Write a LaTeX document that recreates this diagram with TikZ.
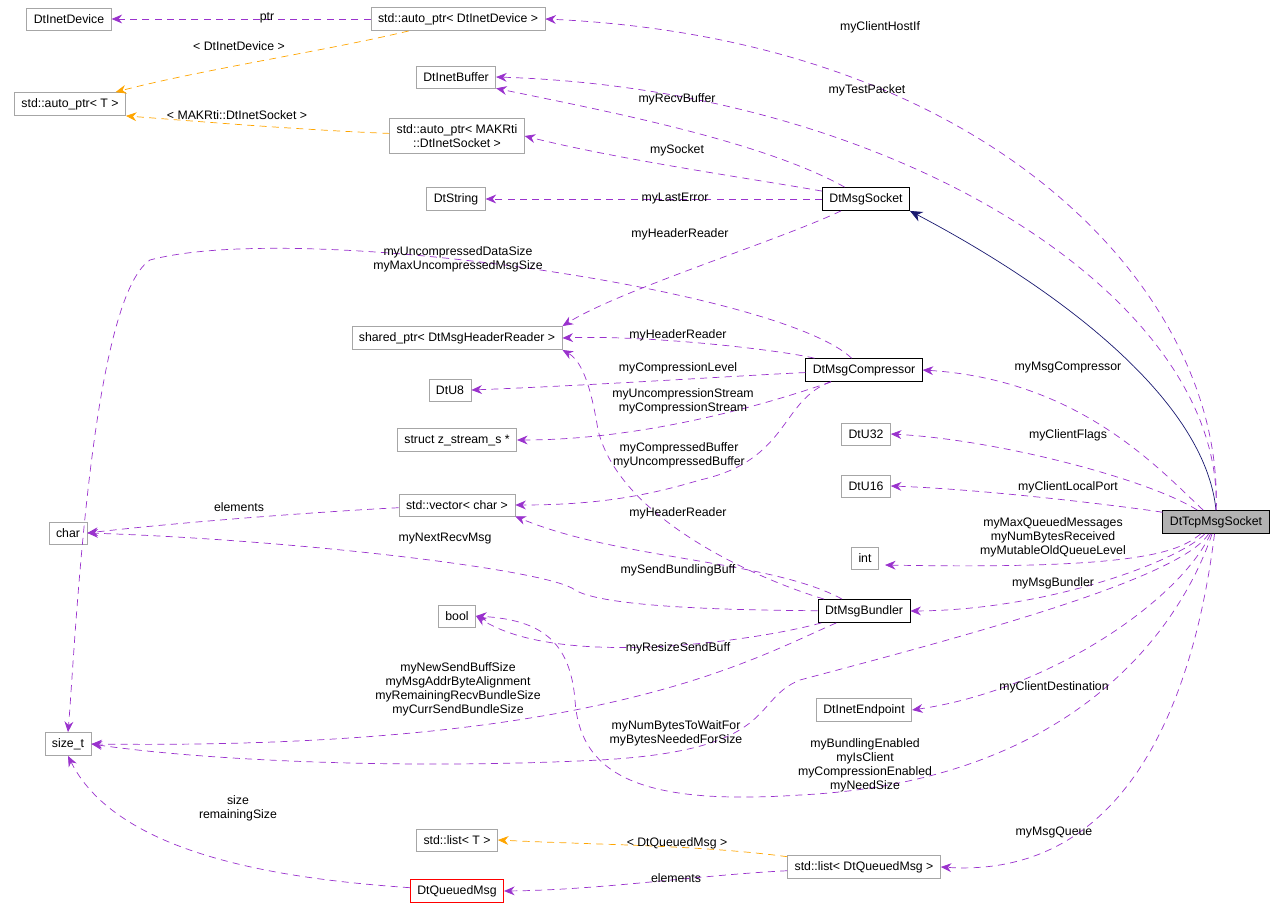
\documentclass[tikz,border=0pt]{standalone}
\usepackage{fontspec}
\setmainfont{Liberation Sans}
\usetikzlibrary{arrows.meta}
\definecolor{mem}{HTML}{9A32CD}
\definecolor{tpl}{HTML}{FFA500}
\definecolor{inh}{HTML}{191970}
\begin{document}
\begin{tikzpicture}[x=0.02cm,y=-0.02cm,font=\fontsize{7}{8}\selectfont,
  box/.style={draw=black!35,fill=white,inner xsep=4pt,minimum height=12.5pt,align=center},
  cls/.style={box,draw=black},
  lbl/.style={inner sep=0pt,align=center},
  member/.style={draw=mem,dash pattern=on 4pt off 3pt,-{Stealth[length=6pt,width=5pt]}},
  templ/.style={draw=tpl,dash pattern=on 4pt off 3pt,-{Stealth[length=6pt,width=5pt]}}]
\useasboundingbox (0,0) rectangle (1285,911);
% classes
\node[box] (dev) at (69,19) {DtInetDevice};
\node[box] (apdev) at (458,19) {std::auto\_ptr< DtInetDevice >};
\node[box] (apt) at (70,104) {std::auto\_ptr< T >};
\node[box] (buf) at (456,77) {DtInetBuffer};
\node[box] (apsock) at (457,136) {std::auto\_ptr< MAKRti\\::DtInetSocket >};
\node[box] (str) at (456,199) {DtString};
\node[cls] (msgsock) at (866,199) {DtMsgSocket};
\node[box] (shp) at (457,338) {shared\_ptr< DtMsgHeaderReader >};
\node[cls] (comp) at (864,370) {DtMsgCompressor};
\node[box] (u8) at (450,390) {DtU8};
\node[box] (zs) at (457,440) {struct z\_stream\_s *};
\node[box] (u32) at (866,434) {DtU32};
\node[box] (u16) at (866,486) {DtU16};
\node[box] (vec) at (457,505) {std::vector< char >};
\node[box] (chr) at (68,533) {char};
\node[cls,fill=black!30] (tcp) at (1216,522) {DtTcpMsgSocket};
\node[box] (int) at (865,558) {int};
\node[cls] (bund) at (864,611) {DtMsgBundler};
\node[box] (bool) at (457,616) {bool};
\node[box] (sz) at (68,744) {size\_t};
\node[box] (ep) at (864,710) {DtInetEndpoint};
\node[box] (lst) at (457,840) {std::list< T >};
\node[box] (lstq) at (864,867) {std::list< DtQueuedMsg >};
\node[box,draw=red] (qm) at (457,891) {DtQueuedMsg};
% inheritance
\draw[inh,-{Stealth[length=7pt,width=6pt]}] (tcp.north) .. controls (1205,400) and (1060,290) .. (msgsock.south east);
% templates
\draw[templ] (apdev) .. controls (330,50) and (200,70) .. (apt);
\draw[templ] (apsock) .. controls (300,130) and (180,120) .. (apt.south east);
\draw[templ] (lstq) .. controls (700,845) and (600,845) .. (lst.east);
% members
\draw[member] (apdev) -- (dev);
\draw[member] (tcp.north) .. controls (1225,300) and (1000,40) .. (apdev.east);
\draw[member] (tcp.north) .. controls (1225,300) and (900,90) .. (buf.east);
\draw[member] (msgsock) .. controls (760,140) and (600,110) .. (buf.south east);
\draw[member] (msgsock) .. controls (760,180) and (620,160) .. (apsock.east);
\draw[member] (msgsock) -- (str);
\draw[member] (msgsock) .. controls (780,240) and (620,290) .. (shp.north east);
\draw[member] (comp) .. controls (780,290) and (300,220) .. (150,260) .. controls (90,300) and (75,650) .. (sz.north);
\draw[member] (comp) .. controls (780,350) and (650,335) .. (shp.east);
\draw[member] (comp) .. controls (750,375) and (600,385) .. (u8.east);
\draw[member] (comp) .. controls (780,400) and (650,440) .. (zs.east);
\draw[member] (comp) .. controls (780,400) and (790,460) .. (700,480) .. controls (650,495) and (600,505) .. (vec.east);
\draw[member] (tcp) .. controls (1160,470) and (1080,380) .. (comp.east);
\draw[member] (tcp) .. controls (1150,480) and (1000,440) .. (u32.east);
\draw[member] (tcp) .. controls (1150,510) and (1000,490) .. (u16.east);
\draw[member] (tcp) .. controls (1180,550) and (1150,570) .. (885,565);
\draw[member] (tcp) .. controls (1180,560) and (1050,610) .. (bund.east);
\draw[member] (vec) .. controls (350,510) and (200,520) .. (chr.east);
\draw[member] (bund) .. controls (700,610) and (600,605) .. (575,590) .. controls (550,570) and (300,540) .. (chr.east);
\draw[member] (bund) .. controls (760,580) and (620,520) .. (598,430) .. controls (590,380) and (580,360) .. (shp.south east);
\draw[member] (bund) .. controls (770,560) and (620,560) .. (vec.south east);
\draw[member] (bund) .. controls (760,640) and (560,670) .. (bool.east);
\draw[member] (bund) .. controls (750,660) and (600,750) .. (sz.east);
\draw[member] (tcp) .. controls (1180,580) and (950,640) .. (800,680) .. controls (750,700) and (780,750) .. (600,760) .. controls (400,770) and (200,760) .. (sz.east);
\draw[member] (tcp) .. controls (1190,600) and (1100,780) .. (800,795) .. controls (650,805) and (580,780) .. (575,700) .. controls (570,640) and (540,620) .. (bool.east);
\draw[member] (tcp) .. controls (1180,600) and (1050,690) .. (ep.east);
\draw[member] (tcp) .. controls (1200,650) and (1150,880) .. (lstq.east);
\draw[member] (lstq) .. controls (700,875) and (600,890) .. (qm.east);
\draw[member] (qm) .. controls (300,880) and (120,860) .. (sz.south);
% labels
\node[lbl] (lptr) at (267,18) {ptr};
\node[lbl] (ldev) at (239,46) {< DtInetDevice >};
\node[lbl] (lsockt) at (237,115) {< MAKRti::DtInetSocket >};
\node[lbl] (lhost) at (880,27) {myClientHostIf};
\node[lbl] (ltest) at (867,90) {myTestPacket};
\node[lbl] (lrecv) at (677,99) {myRecvBuffer};
\node[lbl] (lsock) at (677,150) {mySocket};
\node[lbl] (lerr) at (675,199) {myLastError};
\node[lbl] (lhdr1) at (680,234) {myHeaderReader};
\node[lbl] (lunc) at (458,259) {myUncompressedDataSize\\myMaxUncompressedMsgSize};
\node[lbl] (lhdr2) at (678,335) {myHeaderReader};
\node[lbl] (llev) at (678,368) {myCompressionLevel};
\node[lbl] (lstream) at (683,401) {myUncompressionStream\\myCompressionStream};
\node[lbl] (lcbuf) at (679,455) {myCompressedBuffer\\myUncompressedBuffer};
\node[lbl] (lcomp) at (1068,367) {myMsgCompressor};
\node[lbl] (lflags) at (1068,435) {myClientFlags};
\node[lbl] (lport) at (1068,487) {myClientLocalPort};
\node[lbl] (lqueued) at (1053,537) {myMaxQueuedMessages\\myNumBytesReceived\\myMutableOldQueueLevel};
\node[lbl] (lbund) at (1053,583) {myMsgBundler};
\node[lbl] (lelem1) at (239,507) {elements};
\node[lbl] (lnext) at (445,539) {myNextRecvMsg};
\node[lbl] (lhdr3) at (678,513) {myHeaderReader};
\node[lbl] (lsend) at (678,570) {mySendBundlingBuff};
\node[lbl] (lresize) at (678,648) {myResizeSendBuff};
\node[lbl] (lsizes) at (458,689) {myNewSendBuffSize\\myMsgAddrByteAlignment\\myRemainingRecvBundleSize\\myCurrSendBundleSize};
\node[lbl] (lwait) at (676,733) {myNumBytesToWaitFor\\myBytesNeededForSize};
\node[lbl] (lflagsb) at (865,765) {myBundlingEnabled\\myIsClient\\myCompressionEnabled\\myNeedSize};
\node[lbl] (ldest) at (1054,687) {myClientDestination};
\node[lbl] (lqueue) at (1054,832) {myMsgQueue};
\node[lbl] (lqt) at (677,843) {< DtQueuedMsg >};
\node[lbl] (lelem2) at (676,878) {elements};
\node[lbl] (lsize) at (238,808) {size\\remainingSize};
\end{tikzpicture}
\end{document}
